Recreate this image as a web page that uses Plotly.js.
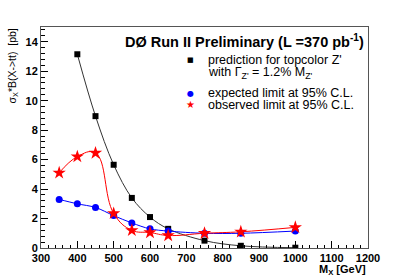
<!DOCTYPE html>
<html><head><meta charset="utf-8">
<script src="https://cdn.plot.ly/plotly-3.0.1.min.js"></script>
<style>html,body{margin:0;padding:0;background:#fff;}</style>
</head><body><div id="chart" style="width:409px;height:277px;"></div>
<script>
const massPred = [400, 450, 500, 550, 600, 650, 750, 850, 1000];
const xsecPred = [13.15, 8.95, 5.65, 3.4, 2.1, 1.3, 0.5, 0.15, 0.02];
const massLim = [350, 400, 450, 500, 550, 600, 650, 750, 850, 1000];
const expected = [3.3, 3.0, 2.75, 2.2, 1.7, 1.3, 1.15, 1.0, 1.0, 1.15];
const observed = [5.1, 6.2, 6.45, 2.35, 1.2, 1.05, 0.85, 1.0, 1.1, 1.4];
const legendLines = ["prediction for topcolor Z'", "with Γ<sub>Z'</sub> = 1.2% M<sub>Z'</sub>", "expected limit at 95% C.L.", "observed limit at 95% C.L."];
const legendSymbols = ["■", "●", "★"];
const seriesColors = ['#000000', '#0000ff', '#ff0000'];

const F = 'Liberation Sans, Arial, Helvetica, sans-serif';
const traces = [
  {x: massPred, y: xsecPred, mode: 'lines+markers', line: {shape: 'spline', color: '#333', width: 1}, marker: {symbol: 'square', color: seriesColors[0], size: 6}},
  {x: massLim, y: expected, mode: 'lines+markers', line: {shape: 'spline', color: seriesColors[1], width: 1}, marker: {symbol: 'circle', color: seriesColors[1], size: 7}},
  {x: massLim, y: observed, mode: 'lines+markers', line: {shape: 'spline', smoothing: 1.2, color: seriesColors[2], width: 1}, marker: {symbol: 'star', color: seriesColors[2], size: 10}}
];

const W = 409, H = 277, ML = 41, MR = 41, MT = 27, MB = 29;
const pw = W - ML - MR, ph = H - MT - MB;
const px = v => (v - ML) / pw;
const py = v => (H - MB - v) / ph;

const ann = [
  {xref: 'paper', yref: 'paper', x: 1.0, y: 1.0, xanchor: 'right', yanchor: 'top', yshift: -3, xshift: -2, showarrow: false,
   text: "<b>DØ Run II Preliminary</b> <b>(L =370 pb<sup>-1</sup>)</b>", font: {size: 14.5, family: F}},
  {xref: 'paper', yref: 'paper', x: 1.0, y: 0, xanchor: 'right', yanchor: 'top', yshift: -13, showarrow: false,
   text: "<b>M<sub>X</sub> [GeV]</b>", font: {size: 11, family: F}},
  {xref: 'paper', yref: 'paper', x: 0, y: 1.0, xanchor: 'right', yanchor: 'top', xshift: -20, showarrow: false, textangle: -90,
   text: "σ<sub>X</sub>*B(X->tt)  [pb]", font: {size: 10.5, family: F}}
];
const rowY = [60, 73, 93, 105];
legendLines.forEach((t, i) => {
  ann.push({xref: 'paper', yref: 'paper', x: px(206), y: py(rowY[i]), xanchor: 'left', yanchor: 'middle', showarrow: false,
    text: t, font: {size: 12.5, family: F}});
});
const symY = [60, 93, 105];
const symSize = [7, 8, 10];
legendSymbols.forEach((s, i) => {
  ann.push({xref: 'paper', yref: 'paper', x: px(190), y: py(symY[i]), xanchor: 'center', yanchor: 'middle', showarrow: false,
    text: s, font: {size: symSize[i], family: 'DejaVu Sans', color: seriesColors[i]}});
});

const layout = {
  width: W, height: H,
  margin: {l: ML, r: MR, t: MT, b: MB, pad: 0},
  paper_bgcolor: '#fff', plot_bgcolor: '#fff',
  font: {family: F, color: '#000'},
  showlegend: false,
  xaxis: {
    range: [300, 1200], dtick: 100, tick0: 300,
    ticks: 'inside', ticklen: 7, tickcolor: '#000', tickwidth: 1,
    minor: {dtick: 20, ticks: 'inside', ticklen: 3.5, tickcolor: '#000', showgrid: false},
    showline: true, linecolor: '#555', linewidth: 1, mirror: true,
    showgrid: false, zeroline: false,
    tickfont: {size: 11, family: F, weight: 'bold'}
  },
  yaxis: {
    range: [0, 15], dtick: 2, tick0: 0,
    ticks: 'inside', ticklen: 7, tickcolor: '#000', tickwidth: 1,
    minor: {dtick: 0.4, ticks: 'inside', ticklen: 3.5, tickcolor: '#000', showgrid: false},
    showline: true, linecolor: '#555', linewidth: 1, mirror: true,
    showgrid: false, zeroline: false,
    tickfont: {size: 11, family: F, weight: 'bold'}
  },
  annotations: ann
};
Plotly.newPlot('chart', traces, layout, {displayModeBar: false, staticPlot: true});
</script></body></html>
